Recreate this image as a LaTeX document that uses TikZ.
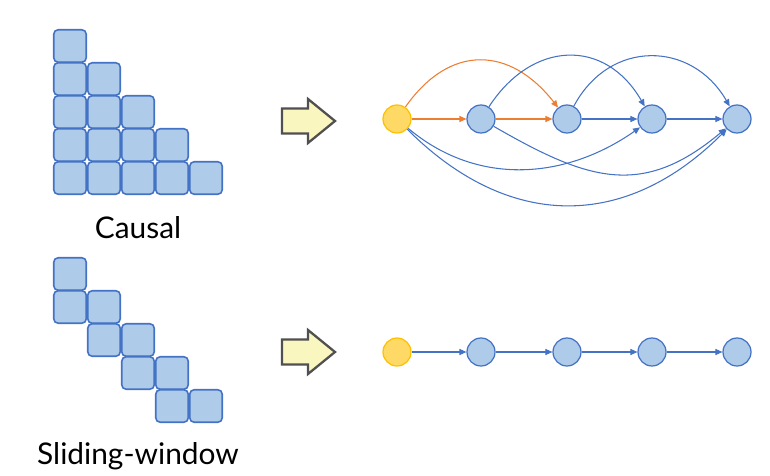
\documentclass[tikz,border=0pt]{standalone}
\usepackage{fontspec}
\setmainfont{Lato}
\usetikzlibrary{arrows.meta,positioning}
\definecolor{cellfill}{RGB}{174,203,234}
\definecolor{cellline}{RGB}{68,114,196}
\definecolor{tokfill}{RGB}{255,217,102}
\definecolor{tokline}{RGB}{255,192,0}
\definecolor{attorange}{RGB}{237,125,49}
\definecolor{attblue}{RGB}{68,114,196}
\definecolor{blockfill}{RGB}{250,246,192}
\definecolor{blockline}{RGB}{80,80,80}
\begin{document}
\begin{tikzpicture}[x=0.02cm,y=0.02cm,
  cell/.style={draw=cellline,fill=cellfill,line width=0.9pt,rounded corners=2.5pt,minimum size=0.65cm,inner sep=0pt},
  tok/.style={circle,draw=cellline,fill=cellfill,line width=0.7pt,minimum size=0.56cm,inner sep=0pt},
  first/.style={tok,draw=tokline,fill=tokfill},
  blockarrow/.style={draw=blockline,fill=blockfill,line width=1.3pt,line join=miter},
  edge/.style={attblue,line width=0.6pt,-{Triangle[length=4pt,width=3.5pt]}},
  oedge/.style={edge,attorange}]
\useasboundingbox (0,0) rectangle (770,-476);

% attention masks
\foreach \r in {0,...,4}
  \foreach \c in {0,...,\r}
    \node[cell] (m-\r-\c) at ({70+34*\c},{-46-33*\r}) {};
\foreach \r/\c in {0/0,1/0,1/1,2/1,2/2,3/2,3/3,4/3,4/4}
  \node[cell] (w-\r-\c) at ({70+34*\c},{-274-33*\r}) {};
\node[font=\fontsize{17}{20}\selectfont] (causal) at (138,-228) {Causal};
\node[font=\fontsize{17}{20}\selectfont] (sliding) at (138,-456) {Sliding-window};

% block arrows
\foreach \y in {121,352}
  \draw[blockarrow,shift={(0,-\y)}] (282,12.5) -- (308,12.5) -- (308,22) -- (335,0)
    -- (308,-22) -- (308,-12.5) -- (282,-12.5) -- cycle;

% token graphs
\node[first] (q0) at (397,-119) {};
\node[first] (s0) at (397,-352) {};
\foreach \i/\x in {1/481,2/567,3/652,4/737}{
  \node[tok] (q\i) at (\x,-119) {};
  \node[tok] (s\i) at (\x,-352) {};
}

% causal
\draw[oedge] (q0) -- (q1);
\draw[oedge] (q1) -- (q2);
\draw[oedge] (q0) to[out=55,in=128,looseness=1.3] (q2);
\draw[edge] (q2) -- (q3);
\draw[edge] (q3) -- (q4);
\draw[edge] (q1) to[out=57,in=120,looseness=1.3] (q3);
\draw[edge] (q2) to[out=62,in=120,looseness=1.25] (q4);
\draw[edge] (q0) to[out=-40,in=-145,looseness=1.0] (q3);
\draw[edge] (q1) to[out=-30,in=-140,looseness=1.2] (q4);
\draw[edge] (q0) to[out=-45,in=-135,looseness=1.15] (q4);

% sliding window
\foreach \a/\b in {0/1,1/2,2/3,3/4}
  \draw[edge] (s\a) -- (s\b);
\end{tikzpicture}
\end{document}
